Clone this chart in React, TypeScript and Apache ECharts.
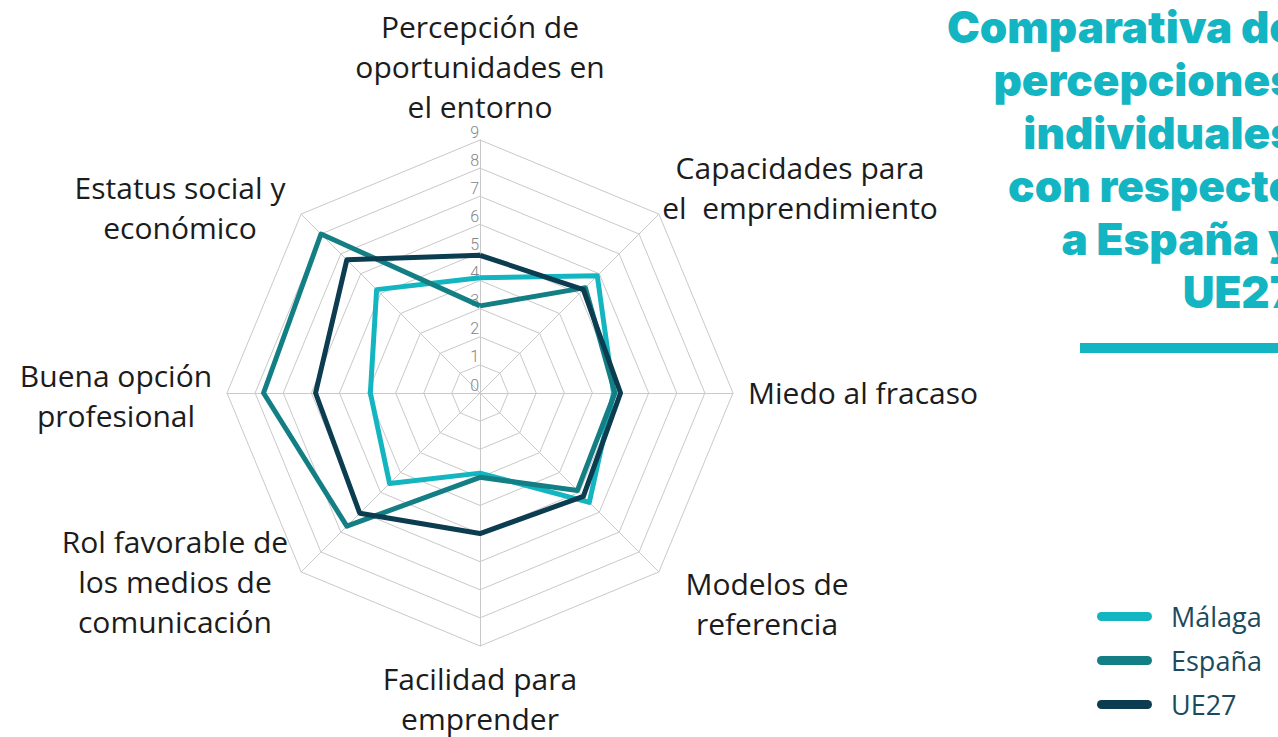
import React, { useEffect, useRef } from "react";
import * as echarts from "echarts";

// Categories clockwise from the top
const categories = [
  "Percepción de\noportunidades en\nel entorno",
  "Capacidades para\nel  emprendimiento",
  "Miedo al fracaso",
  "Modelos de\nreferencia",
  "Facilidad para\nemprender",
  "Rol favorable de\nlos medios de\ncomunicación",
  "Buena opción\nprofesional",
  "Estatus social y\neconómico",
];

const seriesNames = ["Málaga", "España", "UE27"];
const malaga = [4.1, 5.9, 4.75, 5.5, 2.85, 4.55, 3.9, 5.2];
const espana = [3.1, 5.3, 4.8, 4.9, 3.0, 6.7, 7.7, 8.0];
const ue27 = [4.9, 5.2, 5.0, 5.2, 5.0, 6.05, 5.85, 6.7];
const colors = ["#13b5c0", "#137f84", "#0b3c50"];
const axisMax = 9;
const tickLabels = ["0", "1", "2", "3", "4", "5", "6", "7", "8", "9"];

const titleLines = [
  "Comparativa de",
  "percepciones",
  "individuales",
  "con respecto",
  "a España y",
  "UE27",
];

// label anchor positions (center of text block) for each category, clockwise
const labelPos: [number, number][] = [
  [480, 66],
  [800, 187],
  [863, 392],
  [767, 603],
  [480, 698],
  [175, 581],
  [116, 395],
  [180, 207],
];

export default function App() {
  const ref = useRef<HTMLDivElement>(null);
  useEffect(() => {
    if (!ref.current) return;
    const chart = echarts.init(ref.current, undefined, { renderer: "svg" });
    // ECharts radar goes counter-clockwise; reorder clockwise data
    const order = [0, 7, 6, 5, 4, 3, 2, 1];
    const indicator = order.map((i, k) => ({
      name: categories[i],
      max: axisMax,
      min: 0,
      ...(k === 0
        ? {
            axisLabel: {
              show: true,
              color: "#858585",
              fontSize: 16,
              fontFamily: "Roboto",
              fontWeight: 300,
              margin: 1,
              verticalAlign: "bottom",
              formatter: (v: number) => tickLabels[Math.round(v)] ?? "",
            },
          }
        : {}),
    }));
    const datasets = [malaga, espana, ue27];
    const series = datasets.map((d, si) => ({
      type: "radar",
      name: seriesNames[si],
      symbol: "none",
      z: 2 + si,
      lineStyle: { color: colors[si], width: 5 },
      itemStyle: { color: colors[si] },
      data: [{ name: seriesNames[si], value: order.map((i) => d[i]) }],
    }));

    const labelTexts = categories.map((c, i) => {
      const lines = c.split("\n").length;
      const lh = 40;
      return {
        type: "text",
        x: labelPos[i][0],
        y: labelPos[i][1] - (lines * lh) / 2,
        style: {
          text: c,
          fill: "#1c1c1c",
          font: "400 30px 'Open Sans'",
          textAlign: "center",
          textVerticalAlign: "top",
          lineHeight: lh,
        },
      };
    });

    chart.setOption({
      animation: false,
      backgroundColor: "#ffffff",
      legend: {
        orient: "vertical",
        left: 1097,
        top: 603,
        padding: 0,
        itemWidth: 55,
        itemHeight: 9,
        itemGap: 17,
        icon: "path://M4.5,0 H50.5 A4.5,4.5 0 0 1 50.5,9 H4.5 A4.5,4.5 0 0 1 4.5,0 Z",
        data: seriesNames,
        textStyle: {
          fontSize: 27,
          color: "#1b4a5c",
          fontFamily: "Open Sans",
          padding: [0, 0, 0, 14],
        },
      },
      radar: {
        center: [480, 393],
        radius: 253,
        startAngle: 90,
        splitNumber: 9,
        shape: "polygon",
        indicator,
        axisName: { show: false },
        axisLine: { lineStyle: { color: "#c9c9c9", width: 1 } },
        splitLine: { lineStyle: { color: "#c9c9c9", width: 1 } },
        splitArea: { show: false },
        axisLabel: { show: false },
      },
      series,
      graphic: [
        ...labelTexts,
        {
          type: "text",
          x: 1296,
          y: 0,
          style: {
            text: titleLines.join("\n"),
            fill: "#12b5c1",
            font: "900 44px Inter",
            textAlign: "right",
            textVerticalAlign: "top",
            lineHeight: 53,
          },
        },
        {
          type: "rect",
          shape: { x: 1080, y: 343, width: 200, height: 10 },
          style: { fill: "#12b5c1" },
        },
      ],
    });
    return () => chart.dispose();
  }, []);
  return (
    <div
      ref={ref}
      style={{ position: "fixed", left: 0, top: 0, width: 1278, height: 737, background: "#fff" }}
    />
  );
}
